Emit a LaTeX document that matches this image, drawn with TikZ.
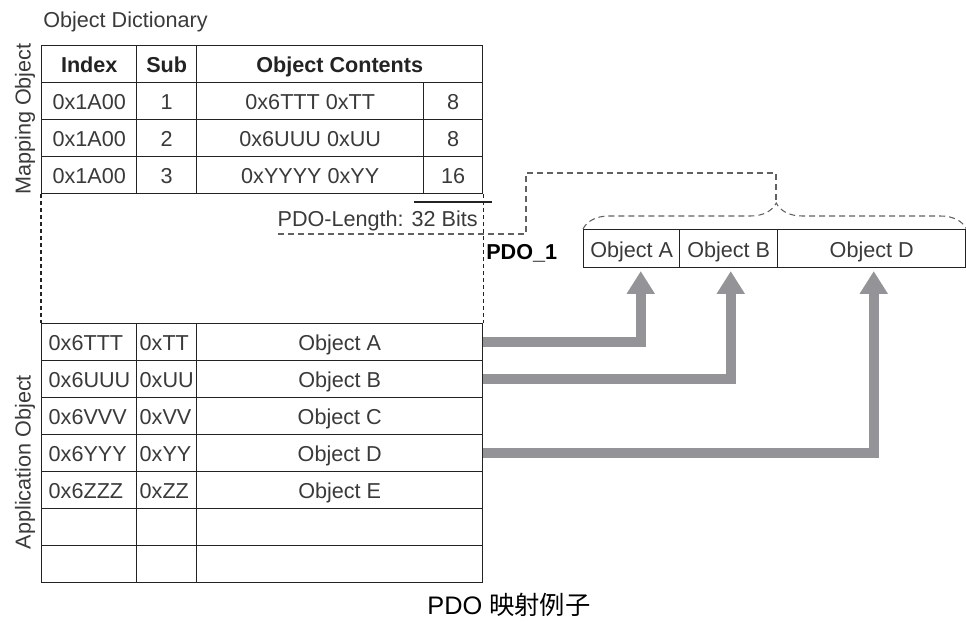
\documentclass[tikz,border=0pt]{standalone}
\usepackage{fontspec}
\setmainfont{Liberation Sans}
\newfontfamily\cjk{Noto Sans CJK SC}
\usepackage{tikz}
\usetikzlibrary{arrows.meta, positioning, decorations.pathreplacing}
\definecolor{InkColor}{RGB}{58,58,58}
\definecolor{RuleColor}{RGB}{35,35,35}
\definecolor{FeedColor}{RGB}{148,148,152}

\begin{document}
\begin{tikzpicture}[x=0.75pt, y=-0.75pt, >=Latex,
    txt/.style={font=\fontsize{16.2}{19}\selectfont, text=InkColor},
    cell/.style={draw=RuleColor, line width=1.1pt, anchor=north west, inner sep=0pt, minimum height=27.75pt, text height=13pt, text depth=0.5pt, txt},
    hdcell/.style={cell, font=\fontsize{16.2}{19}\selectfont\bfseries, text=RuleColor},
    idcell/.style={cell, minimum width=71.25pt, text width=60.75pt, inner xsep=5.25pt, align=left},
    sbcell/.style={cell, minimum width=45pt, text width=40.5pt, inner xsep=2.25pt, align=left},
    dashline/.style={draw=InkColor!80, line width=0.8pt, dash pattern=on 4.5pt off 3pt},
    edgeline/.style={draw=RuleColor, line width=1pt, dash pattern=on 3pt off 2.25pt},
    feed/.style={draw=FeedColor, line width=7.5pt, -{Triangle[length=17pt, width=20pt]}}]
    \useasboundingbox[fill=white] (0,0) rectangle (966,621);
    % Titles
    \node[txt, anchor=west, inner sep=0pt] (dict) at (43,22) {Object Dictionary};
    \node[txt, rotate=90] (mapl) at (25,119) {Mapping Object};
    \node[txt, rotate=90] (appl) at (25,462) {Application Object};
    \node[font=\fontsize{19}{22}\selectfont, text=black] (title) at (509,605) {PDO {\cjk 映射例子}};
    % Mapping object table
    \node[hdcell, minimum width=71.25pt] (hidx) at (41,45) {Index};
    \node[hdcell, minimum width=45pt] (hsub) at (136,45) {Sub};
    \node[hdcell, minimum width=214.5pt] (hcnt) at (196,45) {Object Contents};
    \foreach \i/\obj/\len in {1/0x6TTT 0xTT/8, 2/0x6UUU 0xUU/8, 3/0xYYYY 0xYY/16} {
        \node[cell, minimum width=71.25pt] (idx\i) at (41,45+37*\i) {0x1A00};
        \node[cell, minimum width=45pt] (sub\i) at (136,45+37*\i) {\i};
        \node[cell, minimum width=170.25pt] (cnt\i) at (196,45+37*\i) {\obj};
        \node[cell, minimum width=44.25pt] (len\i) at (423,45+37*\i) {\len};
    }
    % PDO length
    \draw[draw=RuleColor, line width=1.1pt] (414,202) -- (492,202);
    \node[txt, anchor=east, inner sep=0pt] (pdolen) at (478,221) {PDO-Length: 32 Bits};
    % Application object table
    \foreach \i/\ix/\sb/\obj in {1/0x6TTT/0xTT/Object A, 2/0x6UUU/0xUU/Object B, 3/0x6VVV/0xVV/Object C, 4/0x6YYY/0xYY/Object D, 5/0x6ZZZ/0xZZ/Object E} {
        \node[idcell] (aix\i) at (41,286+37*\i) {\ix};
        \node[sbcell] (asb\i) at (136,286+37*\i) {\sb};
        \node[cell, minimum width=214.5pt] (aob\i) at (196,286+37*\i) {\obj};
    }
    \foreach \i in {6,7} {
        \node[cell, minimum width=71.25pt] (aix\i) at (41,286+37*\i) {};
        \node[cell, minimum width=45pt] (asb\i) at (136,286+37*\i) {};
        \node[cell, minimum width=214.5pt] (aob\i) at (196,286+37*\i) {};
    }
    \draw[edgeline] (idx3.south west) -- (aix1.north west);
    \draw[edgeline] (len3.south east) -- (aob1.north east);
    % PDO_1 frame
    \node[txt, font=\fontsize{16.2}{19}\selectfont\bfseries, text=black, anchor=west, inner sep=0pt] (pdo) at (486,253) {PDO\_1};
    \node[cell, minimum width=72pt, minimum height=28.5pt] (pA) at (583,229) {Object A};
    \node[cell, minimum width=73.5pt, minimum height=28.5pt] (pB) at (679,229) {Object B};
    \node[cell, minimum width=141pt, minimum height=28.5pt] (pD) at (777,229) {Object D};
    % Brace and length marker
    \draw[dashline, decorate, decoration={brace, amplitude=19.5pt, aspect=0.504}] (pA.north west) -- (pD.north east);
    \coordinate (tip) at (776,203);
    \coordinate (lenstart) at (278,234);
    \draw[dashline] (lenstart) -| (526,173) -| (tip);
    % Mapping arrows
    \draw[feed] (aob1.east) -| ([xshift=6.75pt, yshift=-2pt]pA.south);
    \draw[feed] (aob2.east) -| ([xshift=1.5pt, yshift=-2pt]pB.south);
    \draw[feed] (aob4.east) -| ([xshift=1.5pt, yshift=-2pt]pD.south);
\end{tikzpicture}
\end{document}
